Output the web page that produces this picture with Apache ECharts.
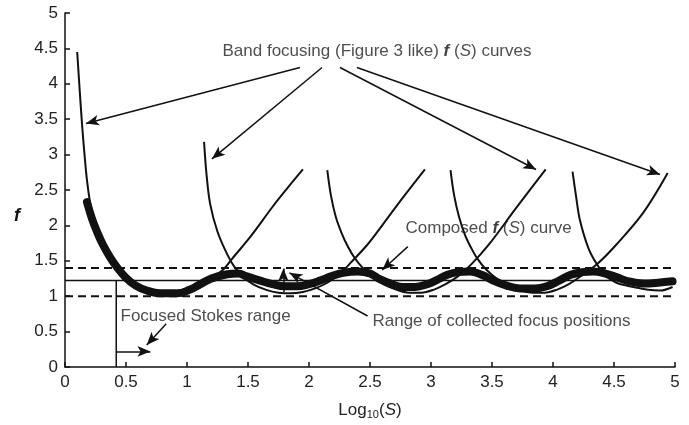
<!DOCTYPE html>
<html lang="en">
<head>
<meta charset="UTF-8">
<title>f(S) curves</title>
<style>html,body{margin:0;padding:0;background:#fff;}</style>
</head>
<body>
<div id="demo" style="width:689px;height:425px;"></div>
<script src="https://cdn.jsdelivr.net/npm/echarts@6/dist/echarts.min.js"></script>
<script>
// band focusing curves, [log10(S), f]
var band1 = [[0.10,4.45],[0.12,3.92],[0.14,3.42],[0.16,3.0],[0.18,2.64],[0.21,2.28],[0.25,1.99],[0.30,1.75],[0.36,1.54],[0.42,1.39],[0.51,1.22],[0.60,1.12],[0.70,1.06],[0.80,1.03],[0.90,1.04],[1.00,1.08],[1.10,1.15],[1.20,1.25],[1.30,1.38],[1.38,1.55],[1.52,1.84],[1.70,2.26],[1.82,2.52],[1.95,2.79]];
var band2 = [[1.14,3.18],[1.16,2.72],[1.19,2.30],[1.25,1.91],[1.33,1.59],[1.39,1.41],[1.46,1.27],[1.55,1.16],[1.65,1.09],[1.75,1.05],[1.85,1.04],[1.95,1.06],[2.05,1.11],[2.15,1.19],[2.25,1.31],[2.34,1.47],[2.48,1.73],[2.60,2.0],[2.72,2.28],[2.95,2.79]];
var band3 = [[2.15,2.78],[2.18,2.42],[2.22,2.12],[2.27,1.88],[2.31,1.73],[2.37,1.55],[2.44,1.40],[2.52,1.27],[2.62,1.16],[2.72,1.09],[2.82,1.05],[2.92,1.05],[3.02,1.09],[3.12,1.17],[3.22,1.28],[3.33,1.45],[3.47,1.72],[3.70,2.25],[3.94,2.79]];
var band4 = [[3.16,2.78],[3.19,2.42],[3.23,2.12],[3.28,1.86],[3.33,1.68],[3.38,1.53],[3.45,1.38],[3.53,1.26],[3.63,1.15],[3.73,1.08],[3.83,1.05],[3.93,1.05],[4.03,1.09],[4.13,1.17],[4.25,1.31],[4.36,1.45],[4.52,1.73],[4.74,2.18],[4.94,2.74]];
var band5 = [[4.16,2.76],[4.19,2.40],[4.22,2.08],[4.29,1.68],[4.36,1.45],[4.43,1.29],[4.52,1.19],[4.60,1.15],[4.69,1.12],[4.78,1.09],[4.88,1.08],[4.98,1.13]];

// composed f(S) curve
var composed = [[0.18,2.33],[0.22,2.10],[0.26,1.92],[0.31,1.73],[0.37,1.55],[0.43,1.40],[0.50,1.26],[0.58,1.15],[0.67,1.08],[0.78,1.04],[0.92,1.04],[1.02,1.09],[1.10,1.16],[1.20,1.25],[1.33,1.31],[1.42,1.32],[1.49,1.28],[1.60,1.22],[1.70,1.17],[1.80,1.14],[1.90,1.14],[2.00,1.17],[2.09,1.22],[2.18,1.28],[2.28,1.33],[2.40,1.35],[2.50,1.32],[2.58,1.24],[2.68,1.17],[2.77,1.13],[2.87,1.13],[2.97,1.17],[3.05,1.23],[3.13,1.30],[3.22,1.34],[3.32,1.35],[3.42,1.30],[3.51,1.22],[3.62,1.15],[3.73,1.11],[3.85,1.11],[3.95,1.14],[4.05,1.22],[4.14,1.30],[4.24,1.34],[4.33,1.35],[4.43,1.32],[4.52,1.27],[4.62,1.21],[4.74,1.18],[4.86,1.19],[4.98,1.21]];

var dashLevels = [1.0, 1.4];
var focusLevel = 1.22;
var stokesStart = 0.42;
var stokesArrow = [0.42, 0.70, 0.22];   // x from, x to, y
var xTicks = [0, 5, 0.5];               // min, max, step
var yTicks = [0, 5, 0.5];

// annotation arrows [x1, y1, x2, y2] in data units
var arrows = [
    [1.926, 4.23, 0.172, 3.44],
    [2.107, 4.23, 1.205, 2.94],
    [2.254, 4.23, 3.861, 2.79],
    [2.393, 4.23, 4.877, 2.72],
    [2.81, 1.70, 2.60, 1.37],
    [2.48, 0.72, 1.84, 1.33],
    [1.79, 1.06, 1.79, 1.39],
    [0.83, 0.61, 0.67, 0.31],
    [stokesArrow[0], stokesArrow[2], stokesArrow[1], stokesArrow[2]]
];

var ink = '#111';
var font = 'Liberation Sans, Arial, Helvetica, sans-serif';
var fs = 17;

var chart = echarts.init(document.getElementById('demo'));

function thin(data) {
    return {
        type: 'line', data: data, showSymbol: false, smooth: 0.35, silent: true,
        lineStyle: { color: ink, width: 2 }, z: 2
    };
}

function straight(data, width, dash) {
    return {
        type: 'line', data: data, showSymbol: false, silent: true,
        lineStyle: { color: ink, width: width, type: dash ? [8, 5] : 'solid' }, z: 1
    };
}

function note(x, y, text) {
    return { value: [x, y], label: { formatter: text } };
}

var rich = {
    b: { fontFamily: font, fontSize: fs, fontWeight: 'bold', fontStyle: 'italic', color: ink },
    i: { fontFamily: font, fontSize: fs, fontStyle: 'italic', color: '#222' },
    n: { fontFamily: font, fontSize: fs, color: '#222' },
    sub: { fontFamily: font, fontSize: 11, color: '#222', verticalAlign: 'bottom', padding: [9, 0, 0, 0] }
};

var series = [
    thin(band1), thin(band2), thin(band3), thin(band4), thin(band5),
    straight([[0, dashLevels[0]], [5, dashLevels[0]]], 2, true),
    straight([[0, dashLevels[1]], [5, dashLevels[1]]], 2, true),
    straight([[0, focusLevel], [5, focusLevel]], 1.5, false),
    straight([[stokesStart, 0], [stokesStart, focusLevel]], 1.5, false),
    {
        type: 'line', data: composed, showSymbol: false, smooth: 0.4, silent: true,
        lineStyle: { color: ink, width: 8, cap: 'round', join: 'round' }, z: 3,
        markLine: {
            silent: true, animation: false,
            symbol: ['none', 'arrow'], symbolSize: [8, 13],
            lineStyle: { color: ink, width: 1.5, type: 'solid' },
            label: { show: false },
            data: arrows.map(function (a) {
                return [{ coord: [a[0], a[1]] }, { coord: [a[2], a[3]] }];
            })
        }
    },
    {
        type: 'scatter', symbolSize: 1, silent: true, z: 5,
        itemStyle: { color: 'rgba(0,0,0,0)' },
        label: {
            show: true, position: 'right', distance: 0,
            fontFamily: font, fontSize: fs, color: '#222', rich: rich
        },
        data: [
            note(1.287, 4.46, '{n|Band focusing (Figure 3 like) }{b|f}{n| (}{i|S}{n|) curves}'),
            note(2.787, 1.96, '{n|Composed }{b|f}{n| (}{i|S}{n|) curve}'),
            note(0.451, 0.72, '{n|Focused Stokes range}'),
            note(2.516, 0.65, '{n|Range of collected focus positions}')
        ]
    }
];

var axisCommon = {
    type: 'value',
    splitLine: { show: false },
    axisLine: { show: true, onZero: false, lineStyle: { color: ink, width: 1.5 } },
    axisTick: { show: true, inside: true, length: 5, lineStyle: { color: ink, width: 1.5 } },
    axisLabel: { color: '#222', fontSize: fs, fontFamily: font, margin: 7 }
};

var option = {
    animation: false,
    backgroundColor: '#fff',
    grid: { left: 65, right: 14, top: 13, bottom: 50 },
    graphic: [{
        type: 'text', left: 14, top: 207, silent: true,
        style: { text: 'f', fontFamily: font, fontSize: 18, fontWeight: 'bold', fontStyle: 'italic', fill: ink }
    }],
    xAxis: echarts.util.merge({
        min: xTicks[0], max: xTicks[1], interval: xTicks[2],
        name: '{n|Log}{sub|10}{n|(}{i|S}{n|)}',
        nameLocation: 'middle', nameGap: 33,
        nameTextStyle: { rich: rich }
    }, axisCommon),
    yAxis: echarts.util.merge({
        min: yTicks[0], max: yTicks[1], interval: yTicks[2]
    }, axisCommon),
    series: series
};

chart.setOption(option);
</script>
</body>
</html>
